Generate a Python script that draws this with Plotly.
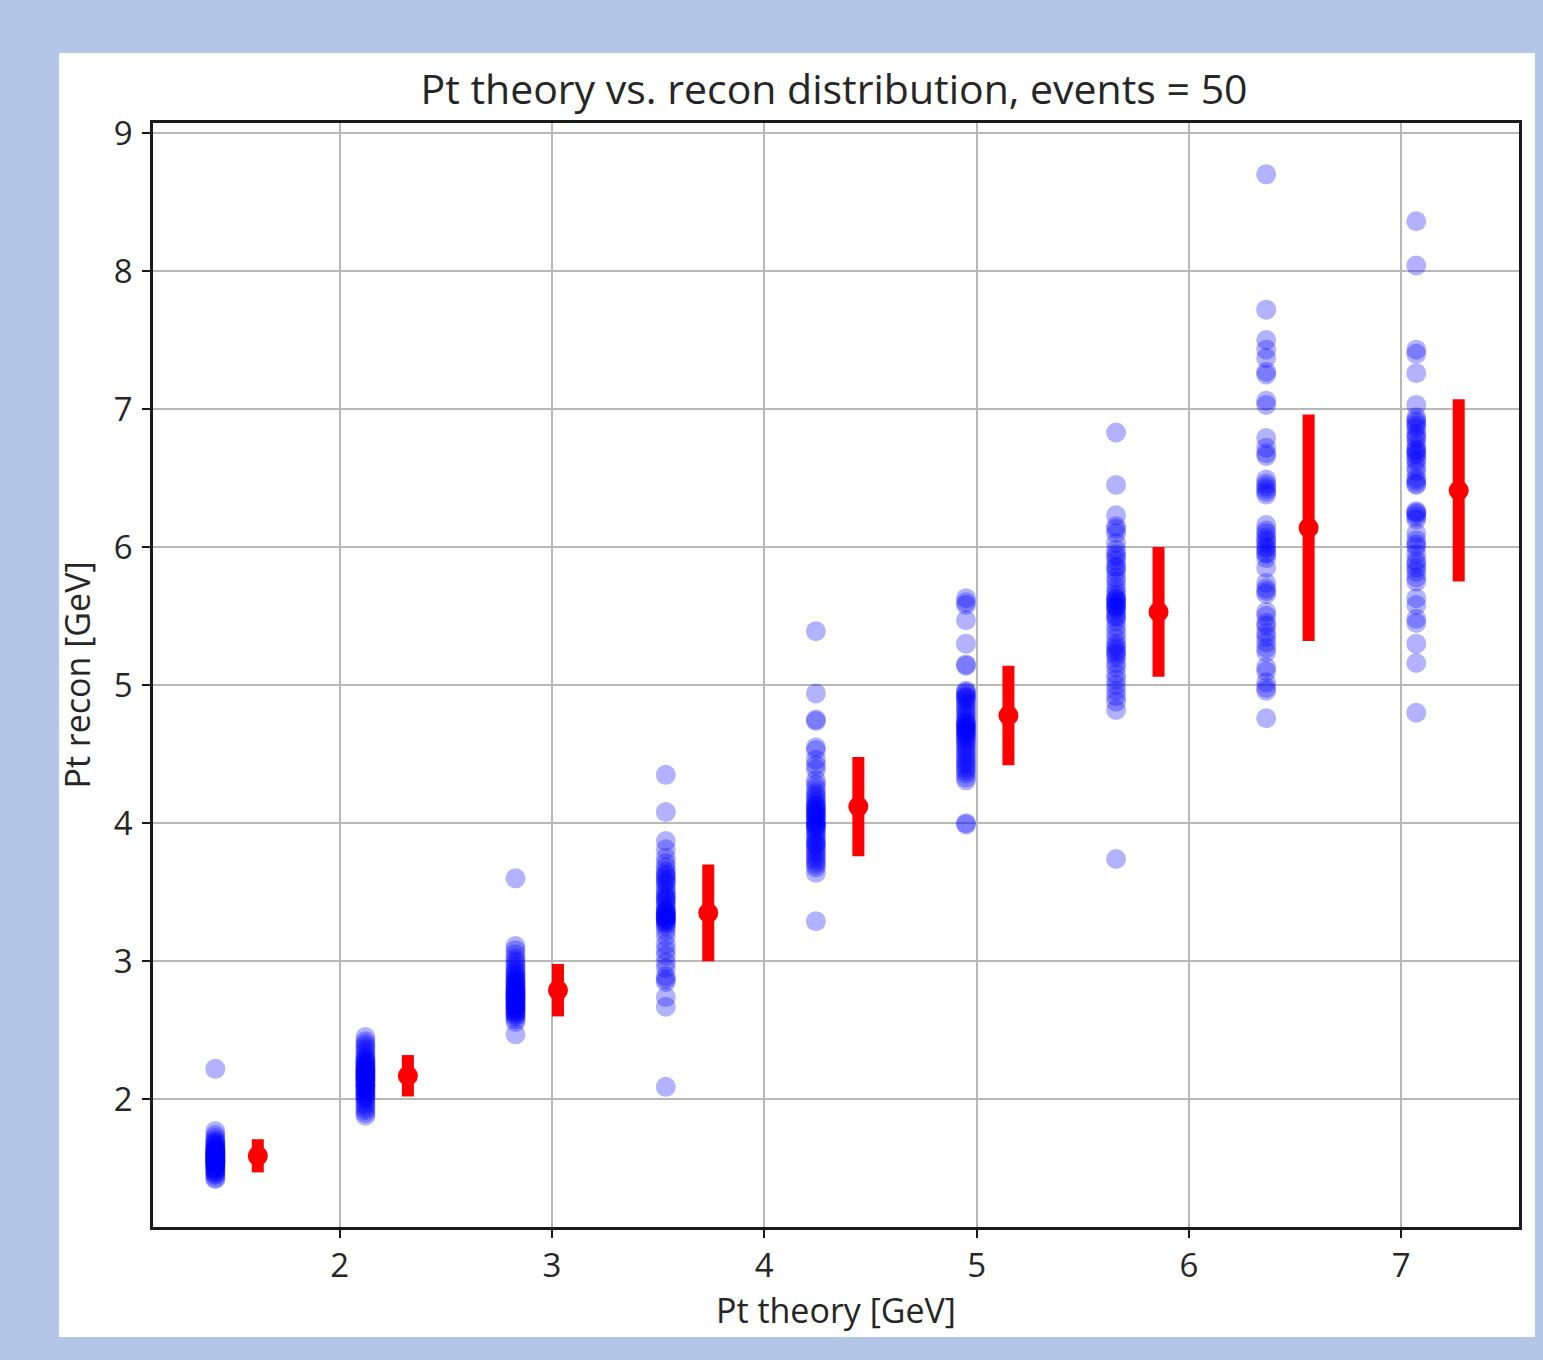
import plotly.graph_objects as go

# Pt theory bins (x of the blue scatter columns)
pt_theory = [1.414, 2.121, 2.828, 3.536, 4.243, 4.950, 5.657, 6.364, 7.071]
offset = 0.2  # red summary markers are shifted right of each column

# Reconstructed Pt values per theory bin
recon_1 = [2.22, 1.77, 1.74, 1.72, 1.70, 1.69, 1.68, 1.67, 1.66, 1.65, 1.64, 1.63, 1.62, 1.62, 1.61,
           1.60, 1.60, 1.59, 1.58, 1.58, 1.57, 1.56, 1.56, 1.55, 1.55, 1.54, 1.53, 1.53, 1.52, 1.51,
           1.50, 1.50, 1.49, 1.48, 1.47, 1.46, 1.45, 1.43, 1.42, 1.60, 1.57, 1.63, 1.54, 1.59, 1.61,
           1.56, 1.52, 1.58, 1.64, 1.55]
recon_2 = [2.45, 2.42, 2.40, 2.38, 2.36, 2.34, 2.32, 2.30, 2.29, 2.28, 2.26, 2.25, 2.24, 2.23, 2.22,
           2.21, 2.20, 2.19, 2.18, 2.17, 2.16, 2.15, 2.14, 2.13, 2.12, 2.11, 2.10, 2.09, 2.08, 2.07,
           2.06, 2.05, 2.04, 2.03, 2.02, 2.01, 2.00, 1.98, 1.96, 1.94, 1.92, 1.90, 1.88, 2.18, 2.22,
           2.14, 2.27, 2.10, 2.20, 2.16]
recon_3 = [3.60, 3.11, 3.08, 3.05, 3.02, 3.00, 2.98, 2.96, 2.94, 2.92, 2.90, 2.88, 2.86, 2.85, 2.84,
           2.82, 2.80, 2.79, 2.78, 2.77, 2.76, 2.75, 2.74, 2.73, 2.72, 2.71, 2.70, 2.69, 2.68, 2.67,
           2.66, 2.65, 2.64, 2.63, 2.62, 2.61, 2.60, 2.58, 2.56, 2.47, 2.83, 2.81, 2.76, 2.72, 2.87,
           2.69, 2.91, 2.74, 2.66, 2.79]
recon_4 = [4.35, 4.08, 3.87, 3.81, 3.75, 3.71, 3.68, 3.65, 3.62, 3.60, 3.58, 3.55, 3.52, 3.50, 3.48,
           3.46, 3.44, 3.42, 3.40, 3.38, 3.36, 3.35, 3.34, 3.33, 3.32, 3.31, 3.30, 3.29, 3.28, 3.27,
           3.25, 3.22, 3.18, 3.12, 3.08, 3.04, 2.99, 2.95, 2.89, 2.87, 2.85, 2.74, 2.67, 2.09, 3.33,
           3.36, 3.31, 3.57, 3.63, 3.45]
recon_5 = [5.39, 4.94, 4.75, 4.74, 4.55, 4.53, 4.46, 4.42, 4.39, 4.31, 4.28, 4.25, 4.22, 4.20, 4.18,
           4.16, 4.14, 4.12, 4.10, 4.08, 4.06, 4.05, 4.04, 4.02, 4.00, 3.98, 3.96, 3.94, 3.92, 3.90,
           3.88, 3.86, 3.84, 3.82, 3.80, 3.78, 3.76, 3.74, 3.72, 3.70, 3.68, 3.64, 3.29, 4.10, 4.07,
           4.13, 3.99, 4.01, 3.97, 3.85]
recon_6 = [5.63, 5.60, 5.58, 5.47, 5.30, 5.15, 5.14, 4.96, 4.94, 4.92, 4.90, 4.88, 4.86, 4.84, 4.82,
           4.80, 4.78, 4.76, 4.74, 4.72, 4.70, 4.68, 4.66, 4.64, 4.62, 4.60, 4.58, 4.56, 4.54, 4.52,
           4.50, 4.48, 4.46, 4.44, 4.42, 4.40, 4.38, 4.36, 4.33, 4.31, 4.00, 3.99, 4.71, 4.69, 4.67,
           4.91, 4.95, 4.65, 4.73, 4.61]
recon_7 = [6.83, 6.45, 6.23, 6.15, 6.13, 6.10, 6.03, 5.98, 5.93, 5.90, 5.86, 5.82, 5.78, 5.75, 5.71,
           5.68, 5.65, 5.62, 5.60, 5.58, 5.56, 5.52, 5.49, 5.46, 5.42, 5.38, 5.34, 5.30, 5.26, 5.24,
           5.22, 5.20, 5.16, 5.13, 5.08, 5.04, 5.00, 4.96, 4.92, 4.88, 4.82, 3.74, 5.55, 5.61, 5.57,
           5.63, 5.28, 5.85, 5.95, 5.50]
recon_8 = [8.70, 7.72, 7.50, 7.43, 7.37, 7.27, 7.25, 7.06, 7.03, 6.79, 6.72, 6.66, 6.49, 6.46, 6.44,
           6.40, 6.38, 6.16, 6.12, 6.07, 6.03, 5.99, 5.95, 5.92, 5.85, 5.74, 5.70, 5.66, 5.53, 5.50,
           5.43, 5.38, 5.35, 5.27, 5.24, 5.13, 5.10, 5.02, 4.98, 4.96, 4.76, 6.00, 6.05, 6.42, 5.68,
           6.10, 5.96, 5.31, 6.68, 5.45]
recon_9 = [8.36, 8.04, 7.43, 7.40, 7.26, 7.03, 6.94, 6.90, 6.86, 6.82, 6.78, 6.74, 6.70, 6.67, 6.64,
           6.50, 6.48, 6.46, 6.26, 6.24, 6.22, 6.20, 6.10, 6.05, 6.00, 5.95, 5.90, 5.85, 5.82, 5.78,
           5.75, 5.63, 5.58, 5.48, 5.45, 5.30, 5.16, 4.80, 6.71, 6.68, 6.62, 6.45, 6.25, 6.88, 6.80,
           5.88, 6.02, 6.55, 6.58, 6.92]
recon_groups = [recon_1, recon_2, recon_3, recon_4, recon_5, recon_6, recon_7, recon_8, recon_9]

# Red summary: mean and spread per bin
recon_mean = [1.59, 2.17, 2.79, 3.35, 4.12, 4.78, 5.53, 6.14, 6.41]
recon_std = [0.12, 0.15, 0.19, 0.35, 0.36, 0.36, 0.47, 0.82, 0.66]

title_text = "Pt theory vs. recon distribution, events = 50"
x_label = "Pt theory [GeV]"
y_label = "Pt recon [GeV]"
x_ticks = [2, 3, 4, 5, 6, 7]
y_ticks = [2, 3, 4, 5, 6, 7, 8, 9]

scatter_x = []
scatter_y = []
for xv, grp in zip(pt_theory, recon_groups):
    scatter_x.extend([xv] * len(grp))
    scatter_y.extend(grp)

fig = go.Figure()
fig.add_trace(go.Scatter(
    x=scatter_x, y=scatter_y, mode="markers",
    marker=dict(size=20, color="rgba(0,0,255,0.3)", line=dict(width=0)),
    showlegend=False,
))
fig.add_trace(go.Scatter(
    x=[v + offset for v in pt_theory], y=recon_mean, mode="markers",
    marker=dict(size=20, color="red", line=dict(width=0)),
    error_y=dict(type="data", array=recon_std, visible=True, color="red", thickness=12, width=0),
    showlegend=False,
))

W, H = 1543, 1360
L, R, T, B = 153, 1519, 123, 1227
font_color = "#262626"
bg_blue = "#b3c6e7"
fig.update_layout(
    width=W, height=H,
    margin=dict(l=L, r=W - R, t=T, b=H - B, pad=0),
    paper_bgcolor=bg_blue,
    plot_bgcolor="white",
    font=dict(family="Open Sans", size=33, color=font_color),
    title=dict(text=title_text, x=834 / W, xanchor="center",
               y=1 - 90 / H, yanchor="middle", yref="container",
               font=dict(size=41, color=font_color)),
    shapes=[dict(type="rect", xref="paper", yref="paper",
                 x0=(59 - L) / (R - L), x1=(1535 - L) / (R - L),
                 y0=(B - 1337) / (B - T), y1=(B - 53) / (B - T),
                 fillcolor="white", line=dict(width=0), layer="below")],
)
axis_common = dict(
    showline=True, linecolor="#1a1a1a", linewidth=2.5, mirror=True,
    showgrid=True, gridcolor="#b8b8b8", gridwidth=2,
    ticks="outside", ticklen=8, tickwidth=2, tickcolor="#1a1a1a",
    zeroline=False, tickfont=dict(size=33),
)
fig.update_xaxes(range=[1.1204, 7.555], tickvals=x_ticks, ticktext=[str(t) for t in x_ticks],
                 title=dict(text=x_label, standoff=11, font=dict(size=34)), **axis_common)
fig.update_yaxes(range=[1.0744, 9.072], tickvals=y_ticks, ticktext=[str(t) for t in y_ticks],
                 ticklabelstandoff=3,
                 title=dict(text=y_label, standoff=13, font=dict(size=34)), **axis_common)

fig.write_html(
    "out.html",
    config={"displayModeBar": False},
    post_script="document.body.style.margin='0';document.body.style.background='" + bg_blue + "';",
)
